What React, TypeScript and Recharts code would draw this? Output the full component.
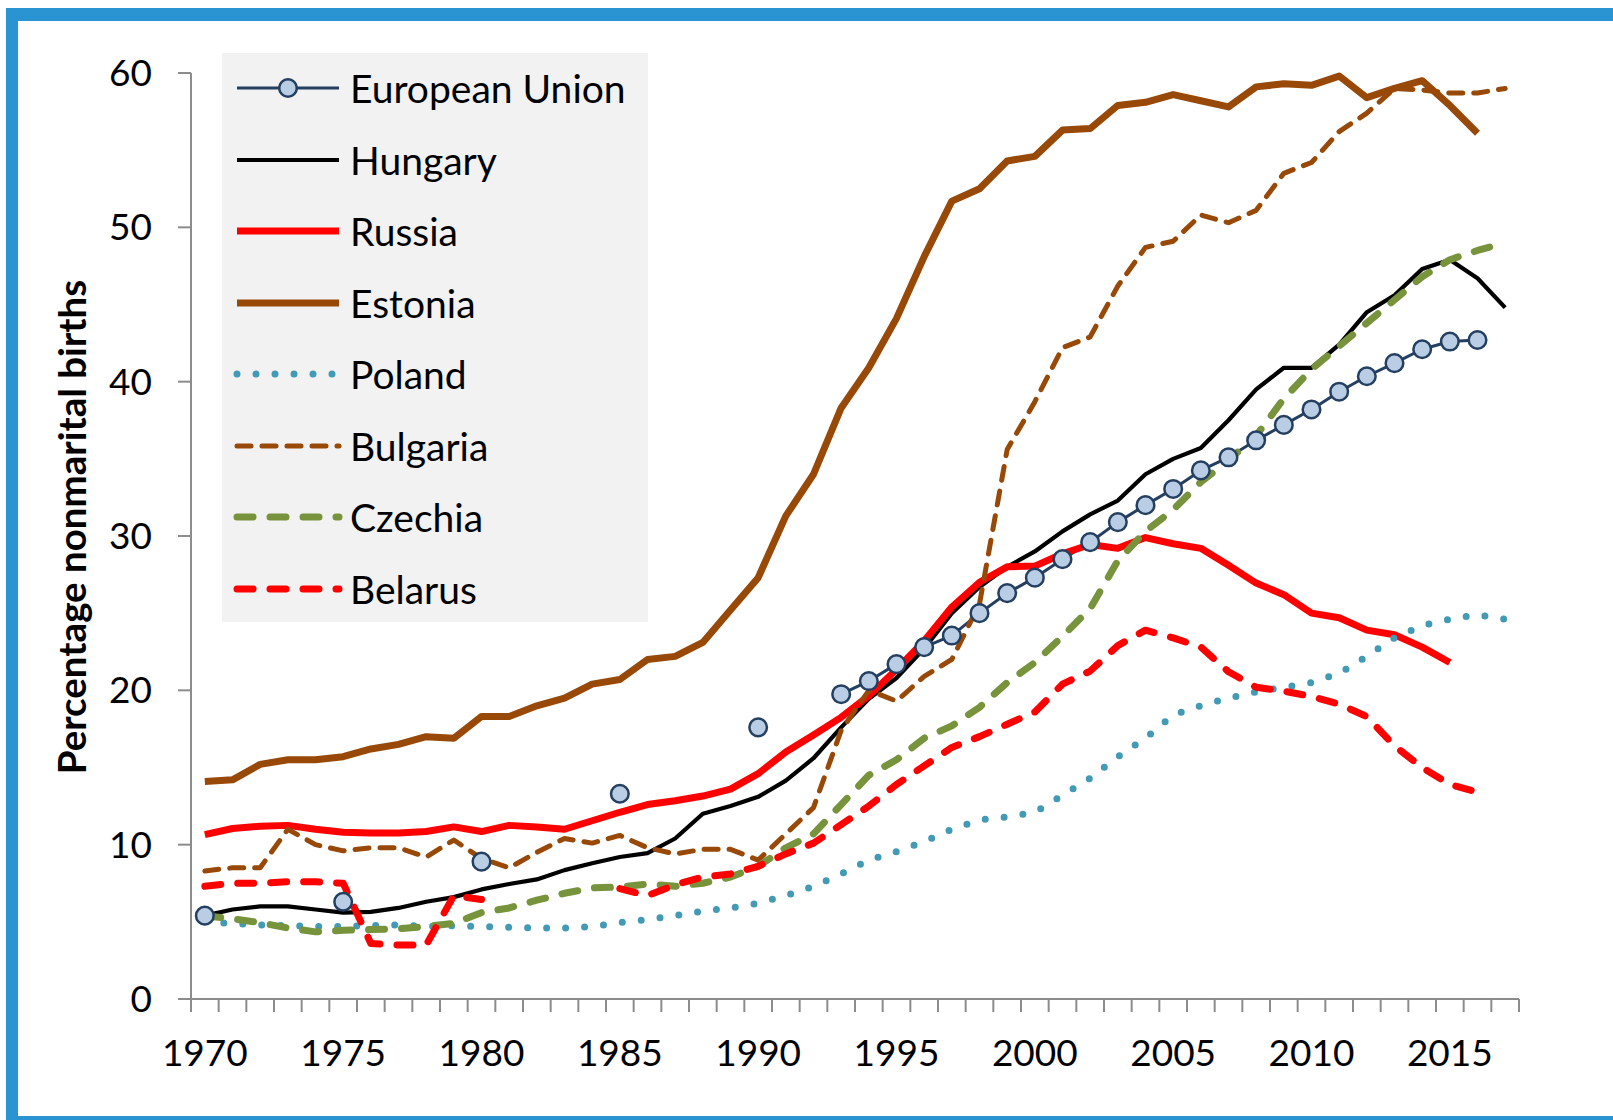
import React from 'react';
import { LineChart, Line, XAxis, YAxis, Legend } from 'recharts';

const years = [
  1970, 1971, 1972, 1973, 1974, 1975, 1976, 1977, 1978, 1979,
  1980, 1981, 1982, 1983, 1984, 1985, 1986, 1987, 1988, 1989,
  1990, 1991, 1992, 1993, 1994, 1995, 1996, 1997, 1998, 1999,
  2000, 2001, 2002, 2003, 2004, 2005, 2006, 2007, 2008, 2009,
  2010, 2011, 2012, 2013, 2014, 2015, 2016, 2017,
];

const labelYears = [1970, 1975, 1980, 1985, 1990, 1995, 2000, 2005, 2010, 2015];
const yTicks = [0, 10, 20, 30, 40, 50, 60];

const euValues = [
  5.4, null, null, null, null, 6.3, null, null, null, null,
  8.9, null, null, null, null, 13.3, null, null, null, null,
  17.6, null, null, 19.75, 20.6, 21.7, 22.8, 23.55, 25.0, 26.3,
  27.3, 28.5, 29.6, 30.9, 32.0, 33.05, 34.25, 35.1, 36.2, 37.2,
  38.2, 39.35, 40.35, 41.2, 42.1, 42.6, 42.7, null,
];

const hungaryValues = [
  5.4, 5.8, 6.0, 6.0, 5.8, 5.6, 5.65, 5.9, 6.3, 6.6,
  7.1, 7.45, 7.75, 8.35, 8.8, 9.2, 9.45, 10.4, 12.0, 12.5,
  13.1, 14.15, 15.6, 17.6, 19.45, 20.8, 22.7, 25.0, 26.7, 28.0,
  29.0, 30.3, 31.4, 32.3, 34.0, 35.0, 35.7, 37.5, 39.5, 40.9,
  40.9, 42.4, 44.5, 45.6, 47.3, 47.9, 46.7, 44.8,
];

const russiaValues = [
  10.65, 11.05, 11.2, 11.25, 11.0, 10.8, 10.75, 10.75, 10.85, 11.15,
  10.85, 11.25, 11.15, 11.0, 11.55, 12.1, 12.6, 12.85, 13.15, 13.6,
  14.6, 16.0, 17.1, 18.25, 19.65, 21.35, 23.2, 25.4, 27.0, 28.0,
  28.05, 28.85, 29.45, 29.2, 29.9, 29.5, 29.2, 28.1, 26.95, 26.2,
  25.0, 24.7, 23.9, 23.6, 22.8, 21.8, null, null,
];

const estoniaValues = [
  14.1, 14.2, 15.2, 15.5, 15.5, 15.7, 16.2, 16.5, 17.0, 16.9,
  18.3, 18.3, 19.0, 19.5, 20.4, 20.7, 22.0, 22.2, 23.1, 25.2,
  27.3, 31.3, 34.0, 38.3, 40.9, 44.1, 48.1, 51.7, 52.5, 54.3,
  54.6, 56.3, 56.4, 57.9, 58.1, 58.6, 58.2, 57.8, 59.1, 59.3,
  59.2, 59.8, 58.4, 59.0, 59.5, 57.9, 56.1, null,
];

const polandValues = [
  5.0, 4.9, 4.8, 4.75, 4.7, 4.7, 4.75, 4.8, 4.7, 4.75,
  4.7, 4.65, 4.6, 4.6, 4.7, 4.95, 5.15, 5.4, 5.7, 5.9,
  6.2, 6.7, 7.3, 8.1, 9.0, 9.55, 10.2, 11.0, 11.6, 11.8,
  12.1, 13.2, 14.3, 15.7, 16.9, 18.4, 19.0, 19.5, 19.9, 20.2,
  20.5, 21.1, 22.2, 23.4, 24.2, 24.6, 24.9, 24.6,
];

const bulgariaValues = [
  8.3, 8.5, 8.5, 11.0, 10.0, 9.6, 9.8, 9.8, 9.2, 10.3,
  9.1, 8.5, 9.5, 10.4, 10.1, 10.6, 9.8, 9.4, 9.7, 9.7,
  9.0, 10.7, 12.4, 17.4, 20.0, 19.3, 20.9, 22.0, 25.6, 35.6,
  38.7, 42.2, 42.9, 46.2, 48.7, 49.1, 50.8, 50.3, 51.1, 53.5,
  54.2, 56.2, 57.4, 59.0, 58.9, 58.7, 58.7, 59.0,
];

const czechiaValues = [
  5.4, 5.2, 4.95, 4.6, 4.35, 4.45, 4.5, 4.55, 4.7, 4.9,
  5.6, 5.9, 6.4, 6.85, 7.2, 7.25, 7.45, 7.3, 7.5, 7.9,
  8.6, 9.8, 10.7, 12.6, 14.5, 15.5, 16.9, 17.7, 18.9, 20.5,
  21.8, 23.5, 25.3, 28.4, 30.3, 31.7, 33.5, 34.9, 36.5, 38.9,
  40.8, 42.3, 43.8, 45.3, 46.8, 47.9, 48.5, 49.0,
];

const belarusValues = [
  7.3, 7.5, 7.5, 7.6, 7.6, 7.5, 3.6, 3.5, 3.5, 6.7,
  6.45, null, null, null, null, 7.15, 6.7, 7.4, 7.9, 8.1,
  8.6, 9.4, 10.1, 11.3, 12.5, 13.9, 15.1, 16.3, 17.0, 17.8,
  18.6, 20.4, 21.25, 22.9, 23.9, 23.4, 22.8, 21.2, 20.2, 19.95,
  19.6, 19.1, 18.3, 16.4, 15.0, 13.9, 13.4, null,
];

const series = [
  { key: 'eu', name: 'European Union', values: euValues, color: '#243f60', width: 3, dash: undefined, marker: true },
  { key: 'hungary', name: 'Hungary', values: hungaryValues, color: '#000000', width: 4.2, dash: undefined },
  { key: 'russia', name: 'Russia', values: russiaValues, color: '#ff0000', width: 7, dash: undefined },
  { key: 'estonia', name: 'Estonia', values: estoniaValues, color: '#984807', width: 7, dash: undefined },
  { key: 'poland', name: 'Poland', values: polandValues, color: '#429ab4', width: 7, dash: '0 19' },
  { key: 'bulgaria', name: 'Bulgaria', values: bulgariaValues, color: '#984807', width: 5, dash: '14 11' },
  { key: 'czechia', name: 'Czechia', values: czechiaValues, color: '#77933c', width: 7, dash: '16 17' },
  { key: 'belarus', name: 'Belarus', values: belarusValues, color: '#ff0000', width: 7, dash: '16 17' },
];

const data = years.map((year, i) => {
  const row: Record<string, number | null> = { year };
  series.forEach((s) => {
    row[s.key] = s.values[i];
  });
  return row;
});

// tick marks sit between the years, like a category axis
const boundaryTicks = years.map((y) => y - 0.5).concat(years[years.length - 1] + 0.5);

const FONT = 'Lato, "DejaVu Sans", sans-serif';
const AXIS_GRAY = '#8c8c8c';
const HALF_BAND = (1519 - 191) / years.length / 2;

function YearTick(props: any) {
  const { x, y, payload } = props;
  const yr = payload.value + 0.5;
  if (!labelYears.includes(yr)) return <g />;
  return (
    <text x={x + HALF_BAND} y={y} dy="0.71em" textAnchor="middle" fontSize={37} fill="#000" fontFamily={FONT}>
      {yr}
    </text>
  );
}

function LegendBox() {
  return (
    <div style={{ width: 426, height: 569, background: '#f2f2f2', boxSizing: 'border-box', fontFamily: FONT }}>
      {series.map((s, i) => (
        <div
          key={s.key}
          style={{ position: 'absolute', left: 0, top: 35 + i * 71.5 - 30, height: 60, display: 'flex', alignItems: 'center' }}
        >
          <svg width={128} height={60} style={{ display: 'block' }}>
            <line
              x1={15}
              x2={117}
              y1={30}
              y2={30}
              stroke={s.color}
              strokeWidth={s.width}
              strokeDasharray={s.dash}
              strokeLinecap={s.dash ? 'round' : 'butt'}
            />
            {s.marker && <circle cx={66} cy={30} r={8.8} fill="#b9cde5" stroke="#243f60" strokeWidth={2.5} />}
          </svg>
          <span style={{ fontSize: 39, color: '#000', whiteSpace: 'nowrap', lineHeight: '60px' }}>{s.name}</span>
        </div>
      ))}
    </div>
  );
}

export default function App() {
  return (
    <div style={{ position: 'absolute', left: 0, top: 0, width: 1613, height: 1120, background: '#fff', overflow: 'hidden', fontFamily: FONT }}>
      <div
        style={{
          position: 'absolute',
          left: 6,
          top: 8,
          width: 1700,
          height: 1120,
          boxSizing: 'border-box',
          borderTop: '13px solid #2a94d2',
          borderLeft: '12px solid #2a94d2',
          borderBottom: '12px solid #2a94d2',
        }}
      />
      <div style={{ position: 'absolute', left: 0, top: 0 }}>
        <LineChart width={1613} height={1120} data={data} margin={{ top: 73, right: 94, bottom: 41, left: 0 }}>
          <XAxis
            dataKey="year"
            type="number"
            domain={[boundaryTicks[0], boundaryTicks[boundaryTicks.length - 1]]}
            ticks={boundaryTicks}
            interval={0}
            height={80}
            tickSize={13}
            tickMargin={28}
            tick={<YearTick />}
            stroke={AXIS_GRAY}
            strokeWidth={2}
            allowDataOverflow
          />
          <YAxis
            domain={[0, 60]}
            ticks={yTicks}
            interval={0}
            width={191}
            tickSize={13}
            tickMargin={26}
            tick={{ fontSize: 37, fill: '#000', fontFamily: FONT }}
            stroke={AXIS_GRAY}
            strokeWidth={2}
            label={{
              content: () => (
                <text
                  x={86}
                  y={527}
                  transform="rotate(-90 86 527)"
                  textAnchor="middle"
                  fontSize={38.5}
                  fontWeight="bold"
                  fontFamily={FONT}
                  fill="#000"
                >
                  Percentage nonmarital births
                </text>
              ),
            }}
          />
          <Legend
            layout="vertical"
            align="center"
            verticalAlign="middle"
            content={() => <LegendBox />}
            wrapperStyle={{ position: 'absolute', left: 222, top: 53, width: 426, height: 569 }}
          />
          {series.map((s) => (
            <Line
              key={s.key}
              dataKey={s.key}
              name={s.name}
              stroke={s.color}
              strokeWidth={s.width}
              strokeDasharray={s.dash}
              strokeLinecap={s.dash ? 'round' : 'butt'}
              strokeLinejoin="round"
              type="linear"
              connectNulls={false}
              isAnimationActive={false}
              dot={s.marker ? { r: 8.8, fill: '#b9cde5', stroke: '#243f60', strokeWidth: 2.5, strokeDasharray: '' } : false}
              activeDot={false}
            />
          ))}
        </LineChart>
      </div>
    </div>
  );
}
